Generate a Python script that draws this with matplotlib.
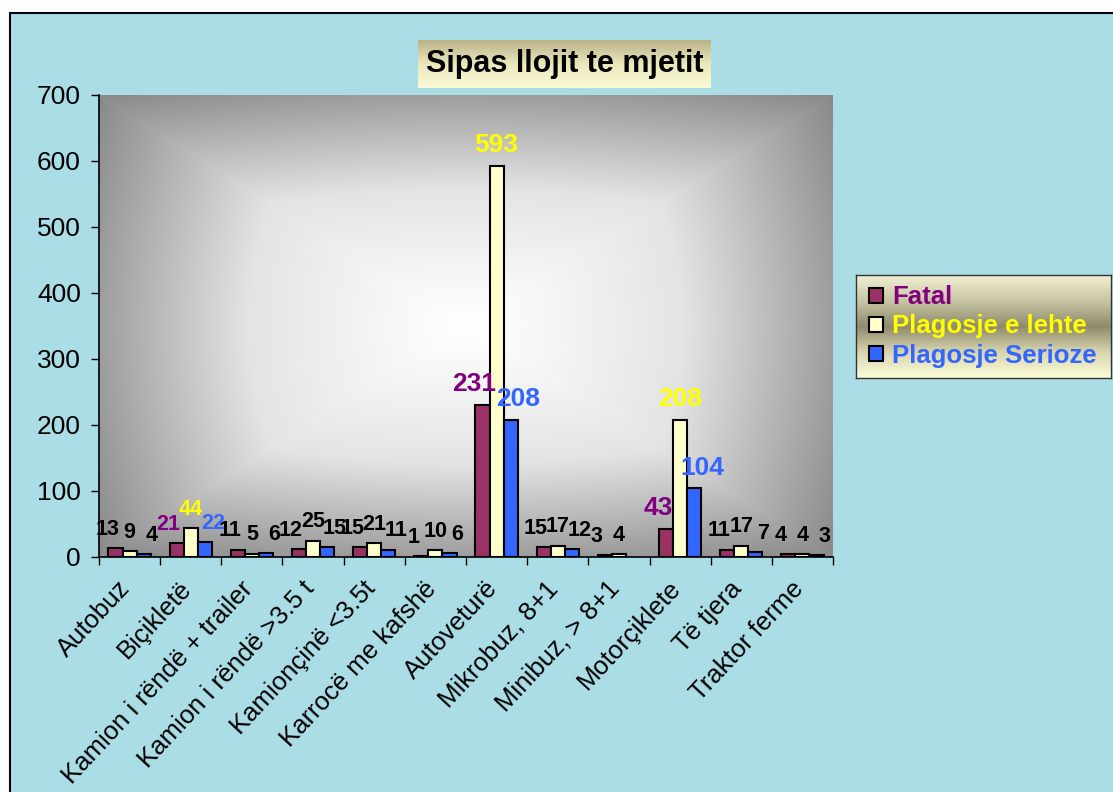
import numpy as np
import matplotlib.pyplot as plt
import matplotlib.transforms as mtransforms
from matplotlib.patches import Rectangle
from matplotlib.colors import LinearSegmentedColormap

plt.rcParams['font.family'] = ['Liberation Sans', 'DejaVu Sans']

# data
categories = ['Autobuz', 'Biçikletë', 'Kamion i rëndë + trailer', 'Kamion i rëndë >3.5 t',
              'Kamionçinë <3.5t', 'Karrocë me kafshë', 'Autoveturë', 'Mikrobuz, 8+1',
              'Minibuz, > 8+1', 'Motorçiklete', 'Të tjera', 'Traktor ferme']
fatal = [13, 21, 11, 12, 15, 1, 231, 15, 3, 43, 11, 4]
lehte = [9, 44, 5, 25, 21, 10, 593, 17, 4, 208, 17, 4]
serioze = [4, 22, 6, 15, 11, 6, 208, 12, None, 104, 7, 3]
series_names = ['Fatal', 'Plagosje e lehte', 'Plagosje Serioze']
colored_groups = [1, 6, 9]   # groups whose labels use the series colour

W, H = 1113, 792
fig = plt.figure(figsize=(W / 100, H / 100), dpi=100)
fig.patch.set_facecolor('white')

# water-ish background with border (cut off at right/bottom)
fig.patches.append(Rectangle((10 / W, -0.05), 1.1, 1 - 13 / H + 0.05, transform=fig.transFigure,
                             facecolor='#aadde6', edgecolor='black', lw=1.5, zorder=-10))

ax = fig.add_axes([99 / W, 1 - 557 / H, 734 / W, 462 / H])

# "from centre" gradient of the plot area
n = 300
gx, gy = np.meshgrid(np.linspace(-1, 1, n), np.linspace(-1, 1, n))
r = 0.65 * np.maximum(np.abs(gx), np.abs(gy)) + 0.35 * np.hypot(gx, gy) / np.sqrt(2)
gray_cmap = LinearSegmentedColormap.from_list('g', ['#ffffff', '#e4e4e4', '#8a8a8a'])
ax.imshow(r ** 1.1, cmap=gray_cmap, extent=[0, 1, 0, 1], transform=ax.transAxes,
          aspect='auto', zorder=0, interpolation='bilinear')

x = np.arange(len(categories))
bw = 0.23
colors = ['#993366', '#ffffcc', '#3366ff']
label_cols = ['#800080', '#ffff00', '#3366ff']
shifts = [-0.13, 0.0, 0.13]
handles = []
for k, vals in enumerate([fatal, lehte, serioze]):
    xs = [x[i] + (k - 1) * bw for i, v in enumerate(vals) if v is not None]
    vs = [v for v in vals if v is not None]
    b = ax.bar(xs, vs, bw, color=colors[k], edgecolor='black', lw=1.5, zorder=2)
    handles.append(b)
    for i, v in enumerate(vals):
        if v is None:
            continue
        col = label_cols[k] if i in colored_groups else 'black'
        fs = 19 if i in (6, 9) else 15.5
        ax.annotate(str(v), (x[i] + (k - 1) * bw + shifts[k], v), xytext=(0, 6),
                    textcoords='offset points', ha='center', va='bottom',
                    fontsize=fs, fontweight='bold', color=col, zorder=3)

ax.set_xlim(-0.5, len(categories) - 0.5)
ax.set_ylim(0, 700)
ax.set_yticks(range(0, 701, 100))
ax.tick_params(axis='y', labelsize=19, length=6, width=1, direction='out', pad=7)
ax.set_xticks(x)
ax.set_xticklabels(categories, rotation=47, ha='right', va='top', rotation_mode='anchor',
                   fontsize=18.5)
ax.tick_params(axis='x', which='major', length=0, pad=14)
shift = mtransforms.ScaledTranslation(-0.12, 0, fig.dpi_scale_trans)
for lab in ax.get_xticklabels():
    lab.set_transform(lab.get_transform() + shift)
ax.set_xticks(np.arange(-0.5, len(categories), 1), minor=True)
ax.tick_params(axis='x', which='minor', length=6, width=1, direction='out')
for s in ['top', 'right']:
    ax.spines[s].set_visible(False)
for s in ['left', 'bottom']:
    ax.spines[s].set_linewidth(1.2)

# title box
tax = fig.add_axes([418 / W, 1 - 88 / H, 293 / W, 48 / H])
tcm = LinearSegmentedColormap.from_list('t', ['#fbfad6', '#ece8bc', '#b9b28a'])
tax.imshow(np.linspace(0, 1, 100).reshape(-1, 1), cmap=tcm, extent=[0, 1, 0, 1],
           aspect='auto', interpolation='bilinear')
tax.set_xlim(0, 1)
tax.set_ylim(1, 0)
tax.set_xticks([])
tax.set_yticks([])
for s in tax.spines.values():
    s.set_visible(False)
tax.text(0.5, 0.5, 'Sipas llojit te mjetit', ha='center', va='center', fontsize=22,
         fontweight='bold', transform=tax.transAxes)

# legend box
lax = fig.add_axes([856 / W, 1 - 378 / H, 255 / W, 103 / H])
lcm = LinearSegmentedColormap.from_list('l', ['#fcfcd9', '#d8d5ae', '#8e8a6c', '#c8c5a4', '#f2f0d2'])
lax.imshow(np.linspace(0, 1, 100).reshape(-1, 1), cmap=lcm, extent=[0, 1, 0, 1],
           aspect='auto', interpolation='bilinear')
lax.set_xlim(0, 1)
lax.set_ylim(1, 0)
lax.set_xticks([])
lax.set_yticks([])
for s in lax.spines.values():
    s.set_edgecolor('#333333')
    s.set_linewidth(1)
leg = lax.legend(handles, series_names, loc='center left', frameon=False,
                 handlelength=0.55, handleheight=0.55, handletextpad=0.35, labelspacing=0.2,
                 borderaxespad=0.1, prop={'weight': 'bold', 'size': 18.5})
for t, c in zip(leg.get_texts(), label_cols):
    t.set_color(c)

fig.savefig('out.png', dpi=100)
